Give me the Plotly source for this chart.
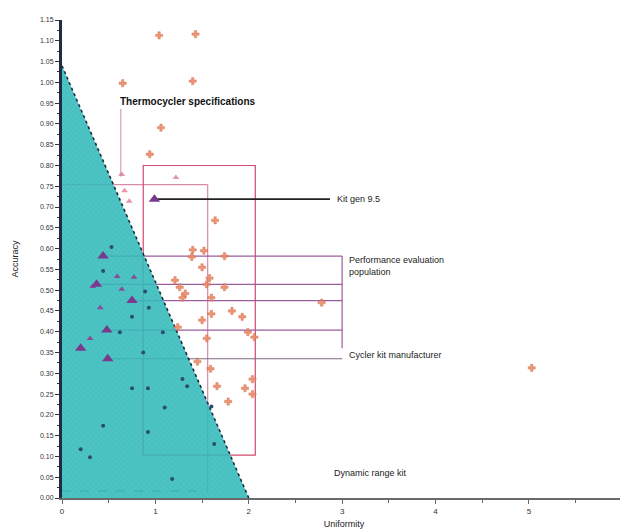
import plotly.graph_objects as go

# y tick labels (accuracy), x ticks (uniformity)
y_ticks = [round(i * 0.05, 2) for i in range(24)]
y_tick_labels = ["%.2f" % v for v in y_ticks]
x_ticks = [0, 1, 2, 3, 4, 5]

# dynamic range kit region: apex on the y axis, foot on the x axis
kit_x = [0, 0, 2.0]
kit_y = [0, 1.04, 0]

# instruments outside the kit region
orange_x = [1.04, 1.43, 0.65, 1.40, 1.06, 0.94, 1.64, 1.40, 1.52, 1.39, 1.74, 1.50,
            1.21, 1.58, 1.55, 1.74, 1.26, 1.32, 1.29, 1.60, 1.82, 1.60, 1.93, 1.50,
            1.24, 1.99, 2.06, 1.55, 1.45, 1.59, 2.04, 1.66, 1.96, 2.04, 1.78, 2.78, 5.03]
orange_y = [1.113, 1.116, 0.998, 1.003, 0.891, 0.827, 0.668, 0.597, 0.595, 0.580, 0.582, 0.555,
            0.524, 0.529, 0.514, 0.507, 0.507, 0.492, 0.482, 0.482, 0.450, 0.443, 0.436, 0.428,
            0.411, 0.399, 0.387, 0.384, 0.328, 0.311, 0.286, 0.269, 0.264, 0.250, 0.232, 0.470, 0.313]

pink_x = [1.22, 0.67, 0.72, 0.64]
pink_y = [0.771, 0.739, 0.714, 0.778]

# reference instruments (big triangles), in order:
# kit gen, 4 x performance population, cycler kit manufacturer
ref_x = [0.99, 0.44, 0.37, 0.75, 0.48, 0.20, 0.49]
ref_y = [0.719, 0.582, 0.514, 0.475, 0.404, 0.360, 0.335]

purple_x = [0.59, 0.64, 0.41, 0.30, 0.77, 0.33]
purple_y = [0.533, 0.502, 0.458, 0.384, 0.531, 0.509]

navy_x = [0.53, 0.44, 0.89, 0.93, 0.75, 0.62, 1.08, 0.87, 1.29, 1.34, 0.75, 0.92,
          0.44, 0.20, 0.30, 0.92, 1.10, 1.18, 1.63, 1.60]
navy_y = [0.604, 0.546, 0.497, 0.458, 0.436, 0.399, 0.399, 0.350, 0.286, 0.269, 0.264, 0.264,
          0.174, 0.117, 0.098, 0.159, 0.218, 0.046, 0.130, 0.220]

# boxes: thermocycler specification and kit acceptance
spec_box = (0, 0.017, 1.56, 0.754)
kit_box = (0.87, 0.103, 2.07, 0.80)
bracket_x = 3.0

RED = "#d24a6e"
PINK = "#d88aa6"
PURPLE = "#9a5c9e"

fig = go.Figure()

# boxes under the teal fill
x0, y0, x1, y1 = spec_box
fig.add_shape(type="line", x0=x0, y0=y1, x1=x1, y1=y1, line=dict(color=PINK, width=1.2), layer="below")
fig.add_shape(type="line", x0=x1, y0=y0, x1=x1, y1=y1, line=dict(color=PINK, width=1.2), layer="below")
fig.add_shape(type="line", x0=x0, y0=y0, x1=x1, y1=y0, line=dict(color="#2a5a70", width=1, dash="dash"), layer="below")
x0, y0, x1, y1 = kit_box
fig.add_shape(type="rect", x0=x0, y0=y0, x1=x1, y1=y1, line=dict(color=RED, width=1.2), layer="below")

# leader lines for the performance population
for i in range(1, 5):
    fig.add_shape(type="line", x0=ref_x[i], y0=ref_y[i], x1=bracket_x, y1=ref_y[i],
                  line=dict(color=PURPLE, width=1.2), layer="below")
fig.add_shape(type="line", x0=bracket_x, y0=ref_y[1], x1=bracket_x, y1=ref_y[5],
              line=dict(color=PURPLE, width=1.2), layer="below")
fig.add_shape(type="line", x0=ref_x[6], y0=ref_y[6], x1=bracket_x, y1=ref_y[6],
              line=dict(color="#7a6a80", width=1.2), layer="below")
fig.add_shape(type="line", x0=ref_x[0], y0=ref_y[0], x1=2.87, y1=ref_y[0],
              line=dict(color="#222222", width=1.6), layer="below")

# teal kit region
fig.add_trace(go.Scatter(
    x=kit_x, y=kit_y, mode="lines", fill="toself",
    fillcolor="rgba(52,188,188,0.88)",
    fillpattern=dict(shape="x", fgcolor="#1f8f8f", fgopacity=0.35, size=4, solidity=0.15, fillmode="overlay"),
    line=dict(color="rgba(0,0,0,0)", width=0), hoverinfo="skip", showlegend=False))
fig.add_trace(go.Scatter(
    x=kit_x[1:], y=kit_y[1:], mode="lines",
    line=dict(color="#1c2c3c", width=1.6, dash="dot"), hoverinfo="skip", showlegend=False))

fig.add_trace(go.Scatter(x=navy_x, y=navy_y, mode="markers",
                         marker=dict(symbol="circle", size=4, color="#2c4d6e"), showlegend=False))
fig.add_trace(go.Scatter(x=pink_x, y=pink_y, mode="markers",
                         marker=dict(symbol="triangle-up", size=6, color="#e596aa"), showlegend=False))
fig.add_trace(go.Scatter(x=orange_x, y=orange_y, mode="markers",
                         marker=dict(symbol="cross", size=6, color="#ea8a66", opacity=0.9,
                                     line=dict(color="#d0603f", width=0.4)), showlegend=False))
fig.add_trace(go.Scatter(x=purple_x, y=purple_y, mode="markers",
                         marker=dict(symbol="triangle-up", size=6, color="#8a4c9a"), showlegend=False))
fig.add_trace(go.Scatter(x=ref_x, y=ref_y, mode="markers",
                         marker=dict(symbol="triangle-up", size=10, color="#7a3a8c"), showlegend=False))

# labels
fig.add_annotation(x=0.60, y=0.955, text="<b>Thermocycler specifications</b>", showarrow=False,
                   xanchor="left", yanchor="middle", font=dict(size=10, color="#111111"))
fig.add_annotation(x=0.63, y=0.772, ax=0.63, ay=0.94, xref="x", yref="y", axref="x", ayref="y",
                   text="", showarrow=True, arrowhead=2, arrowsize=0.7, arrowwidth=1, arrowcolor=PINK)
fig.add_annotation(x=2.92, y=ref_y[0], text="Kit gen 9.5", showarrow=False,
                   xanchor="left", yanchor="middle", font=dict(size=9, color="#222222"))
fig.add_annotation(x=3.05, y=0.59, text="Performance evaluation<br>population", showarrow=False,
                   xanchor="left", yanchor="top", align="left", font=dict(size=9, color="#222222"))
fig.add_annotation(x=3.05, y=ref_y[6] + 0.01, text="Cycler kit manufacturer", showarrow=False,
                   xanchor="left", yanchor="middle", font=dict(size=9, color="#222222"))
fig.add_annotation(x=2.89, y=0.059, text="Dynamic range kit", showarrow=False,
                   xanchor="left", yanchor="middle", font=dict(size=9, color="#222222"))

# the page body adds an 8px offset, so the figure is sized to fit inside it
fig.update_layout(
    width=620, height=523,
    margin=dict(l=54, r=2, t=12, b=33),
    paper_bgcolor="white", plot_bgcolor="white",
    font=dict(family="Liberation Sans, Arial, sans-serif", size=7, color="#333333"),
    xaxis=dict(range=[0, 6.04], tickvals=x_ticks, ticks="outside", ticklen=4, tickcolor="#666666",
               minor=dict(dtick=0.5, ticks="outside", ticklen=3, tickcolor="#666666"),
               showgrid=False, zeroline=False, showline=True, linecolor="#6a6a6a", linewidth=2,
               automargin=False,
               title=dict(text="Uniformity", font=dict(size=9, color="#222222"), standoff=6),
               tickfont=dict(size=8, color="#333333")),
    yaxis=dict(range=[0, 1.15], tickvals=y_ticks, ticktext=y_tick_labels, ticks="outside",
               ticklen=4, tickcolor="#333333",
               minor=dict(dtick=0.025, ticks="outside", ticklen=2, tickcolor="#333333"),
               showgrid=False, zeroline=False, showline=True, linecolor="#1e2c44", linewidth=3,
               automargin=False,
               title=dict(text="Accuracy", font=dict(size=9, color="#222222"), standoff=20),
               tickfont=dict(size=7, color="#333333")),
)

fig.write_html("out.html")
